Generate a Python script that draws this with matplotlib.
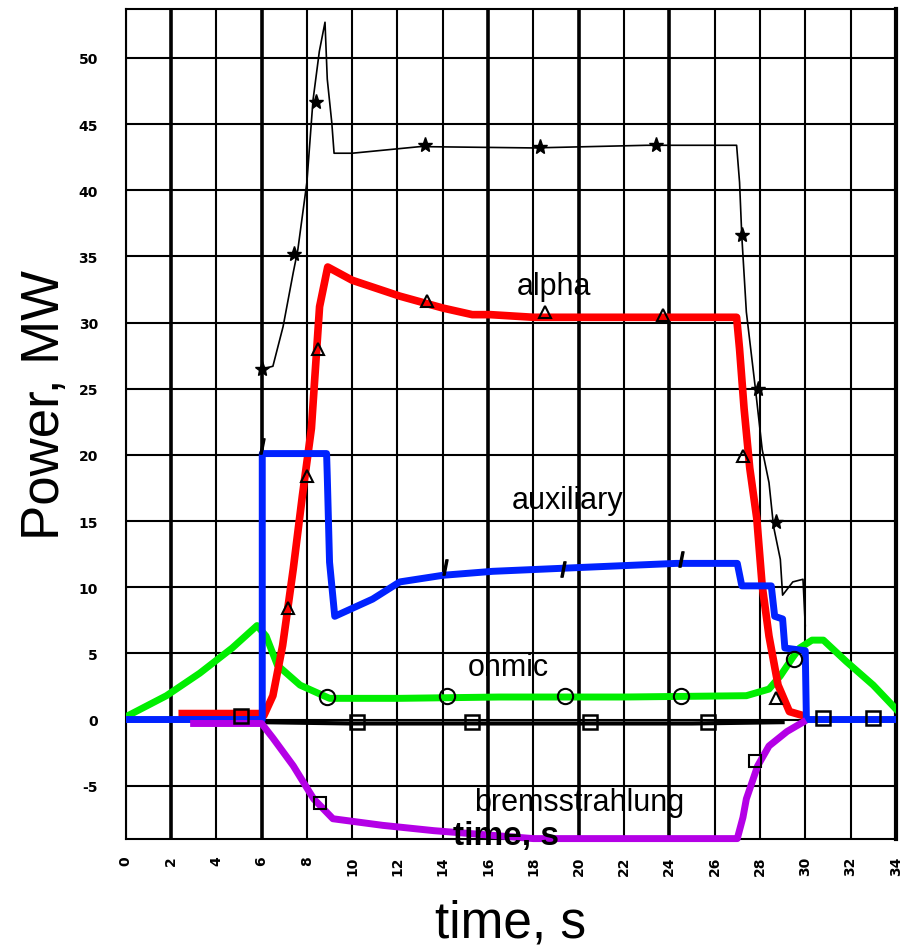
import numpy as np
from matplotlib import pyplot as plt

# total power (black, stars)
t_total = [6.05, 6.5, 6.95, 7.4, 7.6, 8.0, 8.27, 8.55, 8.8, 8.9, 9.1, 9.2, 10, 13, 18, 23, 26.97,
           27.1, 27.2, 27.4, 27.8, 28.1, 28.4, 28.6, 28.9, 29.0, 29.45, 29.9, 30.0]
p_total = [26.5, 26.7, 29.7, 33.8, 35.5, 40.6, 46.8, 50.5, 52.7, 48.4, 45.1, 42.8, 42.8, 43.3, 43.2, 43.4, 43.4,
           40.6, 36.5, 30.8, 25.0, 20.4, 17.9, 14.6, 12.1, 9.4, 10.4, 10.6, 7.1]
t_star = [6.0, 7.45, 8.4, 13.2, 18.3, 23.4, 27.2, 27.9, 28.7]
p_star = [26.5, 35.2, 46.7, 43.4, 43.3, 43.4, 36.6, 25.0, 14.9]

# near-zero black trace
t_zero = [6.0, 10.0, 15.0, 20.0, 25.0, 29.0]
p_zero = [-0.2, -0.3, -0.3, -0.3, -0.3, -0.2]

# alpha heating (red)
t_alpha = [2.5, 6.0, 6.1, 6.5, 6.93, 7.4, 7.8, 8.2, 8.56, 8.92, 10.0, 12.1, 14.0, 15.3, 16.1, 18.0, 22.0, 26.97,
           27.1, 27.3, 27.55, 27.86, 28.1, 28.4, 28.8, 29.3, 29.9]
p_alpha = [0.45, 0.45, 0.3, 1.8, 5.6, 11.4, 16.9, 22.0, 31.2, 34.2, 33.2, 32.0, 31.1, 30.6, 30.6, 30.4, 30.4, 30.4,
           28.0, 23.5, 19.0, 15.2, 10.1, 6.3, 2.6, 0.6, 0.3]
t_alpha_m = [7.15, 8.0, 8.5, 13.3, 18.5, 23.7, 27.25, 28.7]
p_alpha_m = [8.4, 18.4, 28.0, 31.6, 30.8, 30.6, 19.9, 1.6]

# auxiliary heating (blue)
t_aux = [0.0, 6.03, 6.03, 8.87, 8.9, 9.0, 9.23, 10.9, 12.1, 14.0, 16.2, 20.2, 24.3, 27.0, 27.2, 28.5, 28.65,
         29.0, 29.1, 30.0, 30.05, 34.0]
p_aux = [0.0, 0.0, 20.1, 20.1, 18.4, 11.9, 7.8, 9.1, 10.4, 10.9, 11.2, 11.5, 11.8, 11.8, 10.1, 10.1, 7.8,
         7.6, 5.4, 5.2, 0.0, 0.0]
t_aux_m = [6.0, 14.1, 19.3, 24.5]
p_aux_m = [20.7, 11.5, 11.4, 12.1]

# ohmic heating (green)
t_ohm = [0.0, 1.8, 3.27, 4.7, 5.8, 6.2, 6.7, 7.7, 9.0, 12.1, 16.5, 22.0, 27.4, 28.4, 28.9, 29.45, 29.75, 30.3,
         30.8, 31.8, 33.0, 34.0]
p_ohm = [0.2, 1.8, 3.5, 5.4, 7.1, 6.3, 4.1, 2.6, 1.6, 1.6, 1.7, 1.7, 1.8, 2.3, 3.3, 4.7, 5.4, 6.0,
         6.0, 4.4, 2.6, 0.8]
t_ohm_m = [8.9, 14.2, 19.4, 24.5, 29.5]
p_ohm_m = [1.7, 1.8, 1.8, 1.8, 4.6]

# bremsstrahlung (purple)
t_brem = [3.0, 6.0, 6.5, 7.4, 8.3, 9.15, 11.35, 13.6, 15.8, 18.0, 22.0, 27.0, 27.25, 27.4, 27.9, 28.4, 29.2, 29.9]
p_brem = [-0.3, -0.3, -1.4, -3.5, -6.0, -7.5, -8.0, -8.4, -8.7, -9.0, -9.0, -9.0, -7.4, -6.0, -3.5, -2.0, -0.9, -0.2]
t_brem_m = [8.6, 27.8]
p_brem_m = [-6.3, -3.1]

# square markers near zero
t_sq = [5.1, 10.2, 15.3, 20.5, 25.7, 30.8, 33.0]
p_sq = [0.3, -0.2, -0.2, -0.2, -0.2, 0.1, 0.1]

labels = [('alpha', 18.9, 32.8), ('auxiliary', 19.5, 16.6), ('ohmic', 16.9, 4.0), ('bremsstrahlung', 20.0, -6.2)]

fig = plt.figure(figsize=(9.04, 9.53), dpi=100)
ax = fig.add_axes([0.139, 0.119, 0.852, 0.8705])
ax.set_xlim(0, 34)
ax.set_ylim(-9, 53.7)

xt = np.arange(0, 35, 2)
yt = np.arange(-5, 51, 5)
thick = [2, 6, 16, 20, 24]
for x in xt:
    ax.axvline(x, color='black', lw=2.6 if x in thick else 1.5, zorder=1)
for y in yt:
    ax.axhline(y, color='black', lw=1.5, zorder=1)
for s in ax.spines.values():
    s.set_linewidth(1.5)
ax.spines['right'].set_linewidth(3)

ax.set_xticks(xt)
ax.set_yticks(yt)
ax.set_xticklabels([str(v) for v in xt], rotation=90, fontsize=10, fontweight='bold')
ax.set_yticklabels([str(v) for v in yt], fontsize=10, fontweight='bold')
ax.tick_params(axis='x', length=0, pad=12)
ax.tick_params(axis='y', length=0, pad=20)

ax.plot(t_total, p_total, color='black', lw=1.2, zorder=3)
ax.plot(t_star, p_star, ls='none', marker='*', ms=11, color='black', zorder=6)
ax.plot(t_zero, p_zero, color='black', lw=3, zorder=3)

ax.plot(t_ohm, p_ohm, color='#00ee00', lw=5, zorder=4)
ax.plot(t_alpha, p_alpha, color='#ff0000', lw=5.5, zorder=4)
ax.plot(t_aux, p_aux, color='#0022ff', lw=5, zorder=5)
ax.plot(t_brem, p_brem, color='#b400e6', lw=5, zorder=5, clip_on=False)

ax.plot(t_alpha_m, p_alpha_m, ls='none', marker='^', ms=9, mfc='none', mec='black', mew=1.5, zorder=6)
ax.plot(t_aux_m, p_aux_m, ls='none', marker='$I$', ms=11, color='black', zorder=6)
ax.plot(t_ohm_m, p_ohm_m, ls='none', marker='o', ms=11, mfc='none', mec='black', mew=1.5, zorder=6)
ax.plot(t_sq, p_sq, ls='none', marker='s', ms=10, mfc='none', mec='black', mew=1.8, zorder=6)
ax.plot(t_brem_m, p_brem_m, ls='none', marker='s', ms=9, mfc='none', mec='black', mew=1.5, zorder=6)

for txt, x, y in labels:
    ax.text(x, y, txt, fontsize=22, family='Liberation Sans', ha='center', va='center', zorder=7)

# overlapping stray copy of the axis title
ax.text(16.8, -8.75, 'time, s', fontsize=24, fontweight='bold', family='Liberation Sans',
        ha='center', va='center', zorder=7, clip_on=False)

ax.set_xlabel('time, s', fontsize=37, family='Liberation Sans', labelpad=17)
ax.set_ylabel('Power, MW', fontsize=38, family='Liberation Sans')
ax.yaxis.set_label_coords(-0.072, 0.524)

fig.savefig('out.png', dpi=100)
